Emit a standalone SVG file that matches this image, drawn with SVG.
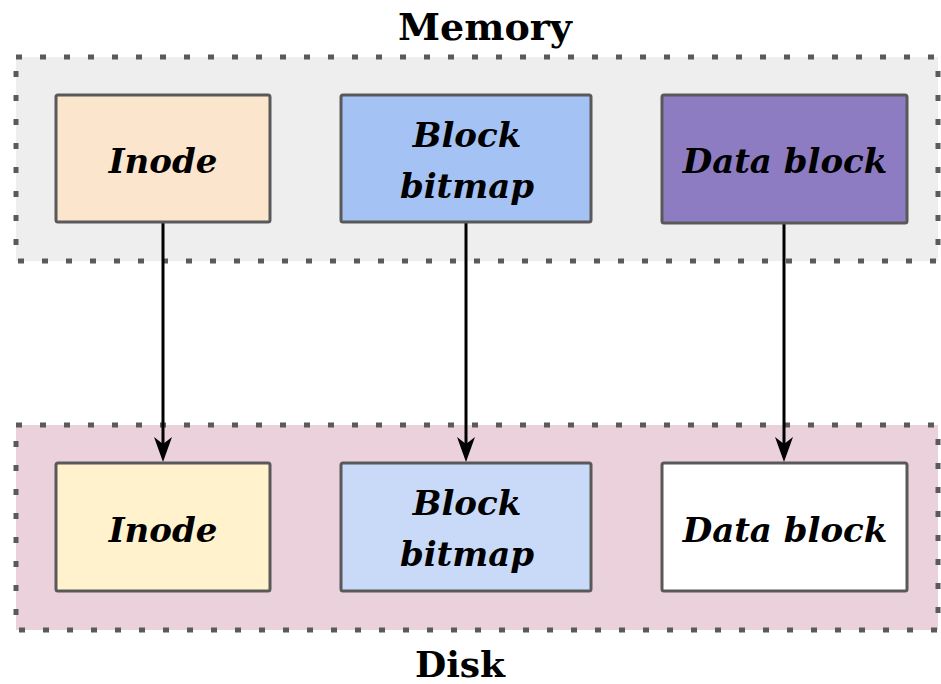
<svg xmlns="http://www.w3.org/2000/svg" width="941" height="684" viewBox="0 0 941 684">
<style>
.container{stroke:#5a5a5a;stroke-width:5;stroke-dasharray:6 18}
.box{stroke:#595959;stroke-width:3}
.lbl{font-family:"DejaVu Serif","Liberation Serif",serif;font-weight:bold;font-style:italic;font-size:34px;fill:#000;text-anchor:middle}
.title{font-family:"DejaVu Serif","Liberation Serif",serif;font-weight:bold;fill:#000;text-anchor:middle}
.conn{stroke:#000;stroke-width:3;fill:none}
</style>
<rect width="941" height="684" fill="#fff"/>
<g id="memory">
<rect class="container" x="16" y="57" width="922" height="204" fill="#eeeeee"/>
<text class="title" x="485" y="40" font-size="38">Memory</text>
</g>
<g id="disk">
<rect class="container" x="16" y="425" width="922" height="205" fill="#ead1dc"/>
<text class="title" x="460" y="677" font-size="36">Disk</text>
</g>
<g id="connectors">
<path class="conn" d="M163,223 V449"/>
<path class="conn" d="M466,223 V449"/>
<path class="conn" d="M784,224 V449"/>
<path d="M163,462 L154,437 L163,444 L172,437 Z" fill="#000"/>
<path d="M466,462 L457,437 L466,444 L475,437 Z" fill="#000"/>
<path d="M784,462 L775,437 L784,444 L793,437 Z" fill="#000"/>
</g>
<g id="mem-inode">
<rect class="box" x="56" y="95" width="214" height="127" rx="2" fill="#fce5cd"/>
<text class="lbl" x="163" y="173">Inode</text>
</g>
<g id="mem-bitmap">
<rect class="box" x="341" y="95" width="250" height="127" rx="2" fill="#a4c2f4"/>
<text class="lbl" x="467" y="147">Block</text>
<text class="lbl" x="467" y="198">bitmap</text>
</g>
<g id="mem-data">
<rect class="box" x="662" y="95" width="245" height="128" rx="2" fill="#8e7cc3"/>
<text class="lbl" x="785" y="173">Data block</text>
</g>
<g id="disk-inode">
<rect class="box" x="56" y="463" width="214" height="128" rx="2" fill="#fff2cc"/>
<text class="lbl" x="163" y="542">Inode</text>
</g>
<g id="disk-bitmap">
<rect class="box" x="341" y="463" width="250" height="128" rx="2" fill="#c9daf8"/>
<text class="lbl" x="467" y="515">Block</text>
<text class="lbl" x="467" y="566">bitmap</text>
</g>
<g id="disk-data">
<rect class="box" x="662" y="463" width="245" height="128" rx="2" fill="#ffffff"/>
<text class="lbl" x="785" y="542">Data block</text>
</g>
</svg>
